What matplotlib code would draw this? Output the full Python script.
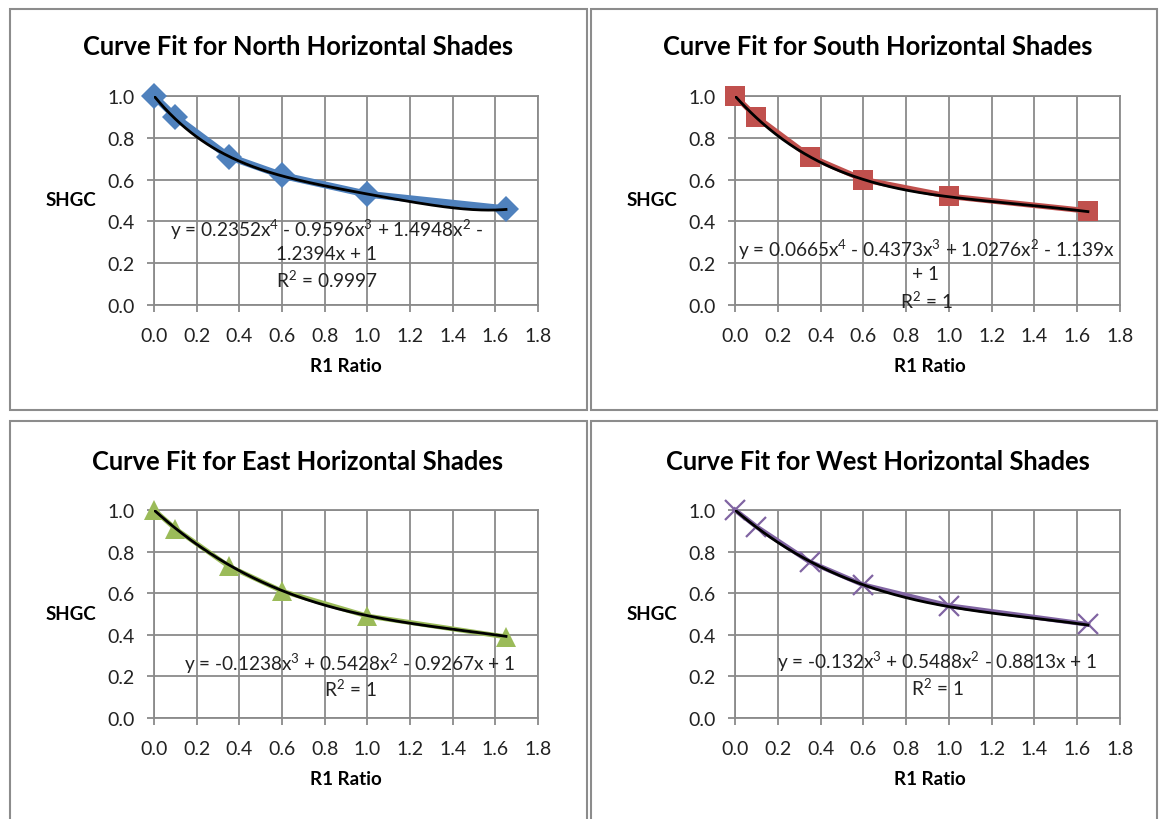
import numpy as np
import matplotlib
matplotlib.use("Agg")
import matplotlib.pyplot as plt
from matplotlib.patches import Rectangle

plt.rcParams['font.family'] = ['Lato', 'DejaVu Sans']
plt.rcParams['mathtext.fontset'] = 'custom'
plt.rcParams['mathtext.rm'] = 'Lato'
plt.rcParams['mathtext.it'] = 'Lato:italic'
plt.rcParams['mathtext.bf'] = 'Lato:bold'
plt.rcParams['mathtext.default'] = 'regular'

# ---- data ----
r1_ratio = [0.0, 0.1, 0.35, 0.6, 1.0, 1.65]
shgc_north = [1.00, 0.90, 0.71, 0.62, 0.53, 0.46]
shgc_south = [1.00, 0.90, 0.71, 0.60, 0.52, 0.45]
shgc_east = [1.00, 0.91, 0.73, 0.61, 0.49, 0.39]
shgc_west = [1.00, 0.92, 0.75, 0.64, 0.54, 0.45]

# trendline coefficients (highest power first) as printed on the chart
coef_north = [0.2352, -0.9596, 1.4948, -1.2394, 1]
coef_south = [0.0665, -0.4373, 1.0276, -1.139, 1]
coef_east = [-0.1238, 0.5428, -0.9267, 1]
coef_west = [-0.132, 0.5488, -0.8813, 1]

titles = ["Curve Fit for North Horizontal Shades", "Curve Fit for South Horizontal Shades",
          "Curve Fit for East Horizontal Shades", "Curve Fit for West Horizontal Shades"]
eq_lines = [
    ["y = 0.2352x$^{4}$ - 0.9596x$^{3}$ + 1.4948x$^{2}$ -", "1.2394x + 1", "R$^{2}$ = 0.9997"],
    ["y = 0.0665x$^{4}$ - 0.4373x$^{3}$ + 1.0276x$^{2}$ - 1.139x", "+ 1", "R$^{2}$ = 1"],
    ["y = -0.1238x$^{3}$ + 0.5428x$^{2}$ - 0.9267x + 1", "R$^{2}$ = 1"],
    ["y = -0.132x$^{3}$ + 0.5488x$^{2}$ - 0.8813x + 1", "R$^{2}$ = 1"],
]
x_ticks = [0.0, 0.2, 0.4, 0.6, 0.8, 1.0, 1.2, 1.4, 1.6, 1.8]
y_ticks = [0.0, 0.2, 0.4, 0.6, 0.8, 1.0]

series = [shgc_north, shgc_south, shgc_east, shgc_west]
coefs = [coef_north, coef_south, coef_east, coef_west]
colors = ["#4F81BD", "#C0504D", "#9BBB59", "#8064A2"]
markers = ["D", "s", "^", "x"]
msizes = [13, 14, 14, 14]
lws = [5, 4, 3.5, 3.5]

W, H = 1160, 820
fig = plt.figure(figsize=(W / 100, H / 100), dpi=100)

# layout in pixels; eq = (center x px, [line center y px])
panels = [
    dict(box=(10, 10, 587, 411), ax=(154, 97, 538, 306), title=(298, 47), ylab=(71, 200), xlab=(346, 367),
         eq=(327, [229, 254, 279])),
    dict(box=(591, 10, 1157, 411), ax=(735, 97, 1120, 306), title=(878, 47), ylab=(652, 200), xlab=(930, 367),
         eq=(926, [249, 274, 300])),
    dict(box=(10, 422, 587, 830), ax=(154, 511, 538, 719), title=(298, 462), ylab=(71, 615), xlab=(346, 780),
         eq=(350, [663, 688])),
    dict(box=(591, 422, 1157, 830), ax=(735, 511, 1120, 719), title=(878, 462), ylab=(652, 615), xlab=(930, 780),
         eq=(937, [661, 687])),
]

grid_col = "#8a8a8a"

for i, p in enumerate(panels):
    bx0, by0, bx1, by1 = p['box']
    fig.patches.append(Rectangle((bx0 / W, 1 - by1 / H), (bx1 - bx0) / W, (by1 - by0) / H,
                                 transform=fig.transFigure, fill=False, edgecolor="#8c8c8c", lw=1.5))
    x0, y0, x1, y1 = p['ax']
    ax = fig.add_axes([x0 / W, 1 - y1 / H, (x1 - x0) / W, (y1 - y0) / H])
    ax.set_xlim(0, 1.8)
    ax.set_ylim(0, 1.0)
    ax.set_xticks(x_ticks)
    ax.set_yticks(y_ticks)
    ax.set_xticklabels([f"{t:.1f}" for t in x_ticks])
    ax.set_yticklabels([f"{t:.1f}" for t in y_ticks])
    ax.grid(True, color=grid_col, lw=1.3)
    ax.set_axisbelow(True)
    for s in ax.spines.values():
        s.set_color(grid_col)
        s.set_linewidth(1.3)
    ax.tick_params(direction='out', length=5, width=1.3, color=grid_col, labelsize=14)
    ax.tick_params(axis='y', pad=9)
    ax.tick_params(axis='x', pad=11)
    for lab in ax.get_xticklabels() + ax.get_yticklabels():
        lab.set_color("#222222")

    xs = r1_ratio
    ys = series[i]
    ax.plot(xs, ys, color=colors[i], lw=lws[i], zorder=3, clip_on=False)
    if markers[i] == "x":
        ax.plot(xs, ys, linestyle='none', marker='x', ms=msizes[i], mew=1.6, color=colors[i], zorder=4, clip_on=False)
    else:
        ax.plot(xs, ys, linestyle='none', marker=markers[i], ms=msizes[i], mew=0, color=colors[i], zorder=4, clip_on=False)
    xf = np.linspace(min(xs), max(xs), 200)
    ax.plot(xf, np.polyval(coefs[i], xf), color="black", lw=2, zorder=5)

    cx, cys = p['eq']
    for line, cy in zip(eq_lines[i], cys):
        fig.text(cx / W, 1 - (cy + 1) / H, line, ha='center', va='center', fontsize=13.7,
                 color="#222222", zorder=6)

    fig.text(p['title'][0] / W, 1 - p['title'][1] / H, titles[i], ha='center', va='center',
             fontsize=18.4, fontweight='bold')
    fig.text(p['ylab'][0] / W, 1 - p['ylab'][1] / H, "SHGC", ha='center', va='center',
             fontsize=13.5, fontweight='bold')
    fig.text(p['xlab'][0] / W, 1 - p['xlab'][1] / H, "R1 Ratio", ha='center', va='center',
             fontsize=13.5, fontweight='bold')

fig.savefig("out.png", dpi=100, facecolor="white")
